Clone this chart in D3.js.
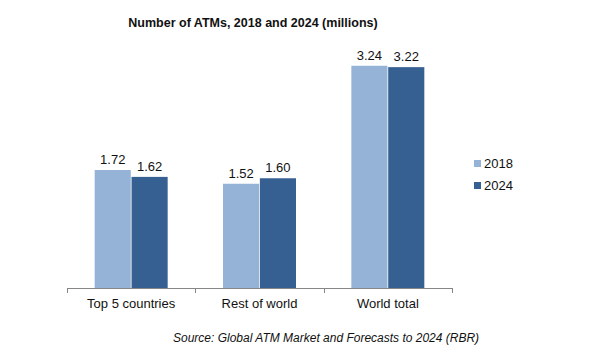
<!DOCTYPE html>
<html lang="en">
<head>
    <meta charset="UTF-8">
    <title>Number of ATMs, 2018 and 2024</title>
    <script src="https://d3js.org/d3.v7.min.js"></script>
    <style>
        body { margin: 0; background: #fff; }
        text { font-family: "Liberation Sans", Arial, sans-serif; fill: #111; }
    </style>
</head>
<body>
    <svg id="chart"></svg>

    <script>
        // Data
        const categories = ["Top 5 countries", "Rest of world", "World total"];
        const years = ["2018", "2024"];
        const values2018 = [1.72, 1.52, 3.24];
        const values2024 = [1.62, 1.60, 3.22];
        const colors = ["#95b3d7", "#366092"];

        const width = 599, height = 362;
        const margin = { top: 50, left: 67, right: 147, bottom: 74 };
        const plotW = width - margin.left - margin.right;
        const plotH = height - margin.top - margin.bottom;

        const svg = d3.select("#chart")
            .attr("width", width)
            .attr("height", height);

        const g = svg.append("g")
            .attr("transform", `translate(${margin.left}, ${margin.top})`);

        // Scales
        const x = d3.scaleBand()
            .domain(categories)
            .range([0, plotW]);

        const xInner = d3.scaleBand()
            .domain(years)
            .range([0, 73])
            .paddingInner(0.02);

        const y = d3.scaleLinear()
            .domain([0, 3.47])
            .range([plotH, 0]);

        const rows = categories.map((c, i) => ({
            category: c,
            vals: [values2018[i], values2024[i]]
        }));

        // Bars
        const groups = g.selectAll(".group")
            .data(rows)
            .join("g")
            .attr("class", "group")
            .attr("transform", d => `translate(${x(d.category) + (x.bandwidth() - 73) / 2}, 0)`);

        groups.selectAll("rect")
            .data(d => d.vals.map((v, j) => ({ year: years[j], value: v, j })))
            .join("rect")
            .attr("x", d => xInner(d.year))
            .attr("y", d => y(d.value))
            .attr("width", xInner.bandwidth())
            .attr("height", d => plotH - y(d.value))
            .attr("fill", d => colors[d.j]);

        groups.selectAll(".val")
            .data(d => d.vals.map((v, j) => ({ year: years[j], value: v, j })))
            .join("text")
            .attr("class", "val")
            .attr("x", d => xInner(d.year) + xInner.bandwidth() / 2)
            .attr("y", d => y(d.value) - 6)
            .attr("text-anchor", "middle")
            .style("font-size", "13px")
            .text(d => d.value.toFixed(2));

        // X axis
        const axis = g.append("g")
            .attr("transform", `translate(0, ${plotH})`);
        axis.append("line")
            .attr("x1", 0).attr("x2", plotW)
            .attr("y1", 0.5).attr("y2", 0.5)
            .attr("stroke", "#868686");
        axis.selectAll(".tick")
            .data(d3.range(categories.length + 1))
            .join("line")
            .attr("x1", i => Math.round(i * x.step()) + 0.5)
            .attr("x2", i => Math.round(i * x.step()) + 0.5)
            .attr("y1", 0).attr("y2", 5)
            .attr("stroke", "#868686");
        axis.selectAll(".cat")
            .data(categories)
            .join("text")
            .attr("x", d => x(d) + x.bandwidth() / 2)
            .attr("y", 20)
            .attr("text-anchor", "middle")
            .style("font-size", "13px")
            .text(d => d);

        // Legend
        const legend = svg.append("g")
            .attr("transform", "translate(474, 160)");
        years.forEach((yr, i) => {
            legend.append("rect")
                .attr("x", 0).attr("y", i * 22)
                .attr("width", 7).attr("height", 7)
                .attr("fill", colors[i]);
            legend.append("text")
                .attr("x", 10).attr("y", i * 22 + 8)
                .style("font-size", "13px")
                .text(yr);
        });

        // Title and source
        svg.append("text")
            .attr("x", 253).attr("y", 27)
            .attr("text-anchor", "middle")
            .style("font-size", "12.5px")
            .style("font-weight", "bold")
            .text("Number of ATMs, 2018 and 2024 (millions)");

        svg.append("text")
            .attr("x", 173).attr("y", 342)
            .style("font-size", "12px")
            .style("font-style", "italic")
            .text("Source: Global ATM Market and Forecasts to 2024 (RBR)");
    </script>
</body>
</html>
